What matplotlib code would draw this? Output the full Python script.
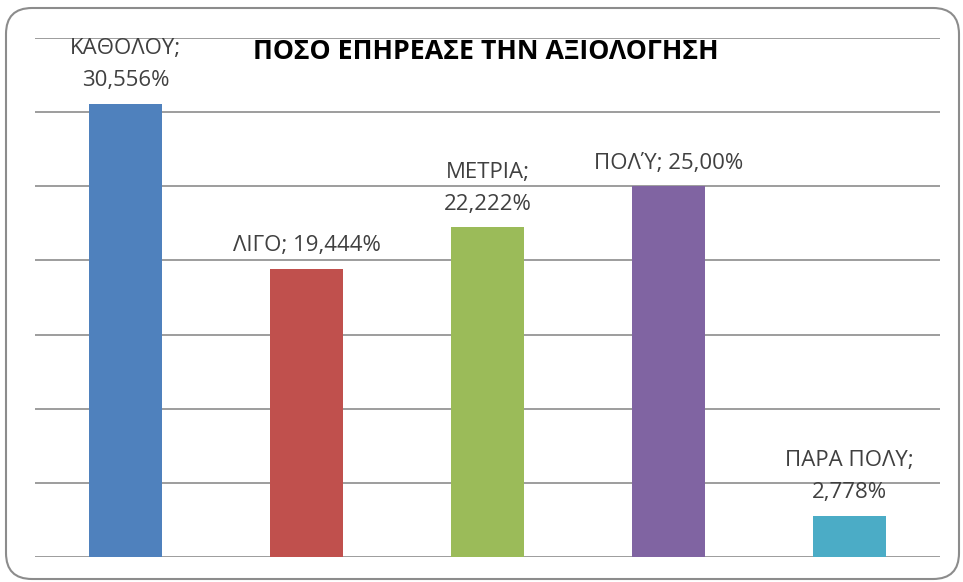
import matplotlib
matplotlib.use("Agg")
import matplotlib.pyplot as plt
from matplotlib.patches import FancyBboxPatch

categories = ["ΚΑΘΟΛΟΥ", "ΛΙΓΟ", "ΜΕΤΡΙΑ", "ΠΟΛΎ", "ΠΑΡΑ ΠΟΛΥ"]
values = [30.556, 19.444, 22.222, 25.00, 2.778]
value_labels = ["30,556%", "19,444%", "22,222%", "25,00%", "2,778%"]
two_line = [True, False, True, False, True]
colors = ["#4F81BD", "#C0504D", "#9BBB59", "#8064A2", "#4BACC6"]
title = "ΠΟΣΟ ΕΠΗΡΕΑΣΕ ΤΗΝ ΑΞΙΟΛΟΓΗΣΗ"

W, H = 963, 582
fig = plt.figure(figsize=(W / 100, H / 100), dpi=100)
plt.rcParams['font.family'] = ['Open Sans', 'DejaVu Sans']

# rounded frame
frame = FancyBboxPatch((6 / W, 3 / H), (959 - 6) / W, (574 - 3) / H,
                       boxstyle="round,pad=0,rounding_size=0.027",
                       transform=fig.transFigure, facecolor="white",
                       edgecolor="#8c8c8c", linewidth=1.5, zorder=-1,
                       mutation_aspect=W / H)
fig.patches.append(frame)

ax = fig.add_axes([35 / W, (H - 557) / H, (940 - 35) / W, (557 - 38) / H])
ax.set_facecolor("none")
x = list(range(len(categories)))
ax.bar(x, values, width=0.4, color=colors, zorder=3)
ax.set_xlim(-0.5, len(categories) - 0.5)
ax.set_ylim(0, 35)
ax.set_yticks([0, 5, 10, 15, 20, 25, 30, 35])
ax.yaxis.grid(True, color="#8c8c8c", linewidth=1.2, zorder=0)
ax.set_axisbelow(True)
ax.tick_params(left=False, bottom=False, labelleft=False, labelbottom=False)
for s in ax.spines.values():
    s.set_visible(False)

for xi, v, c, vl, tl in zip(x, values, categories, value_labels, two_line):
    txt = f"{c};\n{vl}" if tl else f"{c}; {vl}"
    ax.annotate(txt, (xi, v), xytext=(0, 9), textcoords="offset points",
                ha="center", va="bottom", fontsize=16, color="#404040",
                linespacing=1.7, zorder=4)

fig.text(486 / W, 1 - 52 / H, title, ha="center", va="center",
         fontsize=19.3, fontweight="bold", color="black")

fig.savefig("out.png", dpi=100)
